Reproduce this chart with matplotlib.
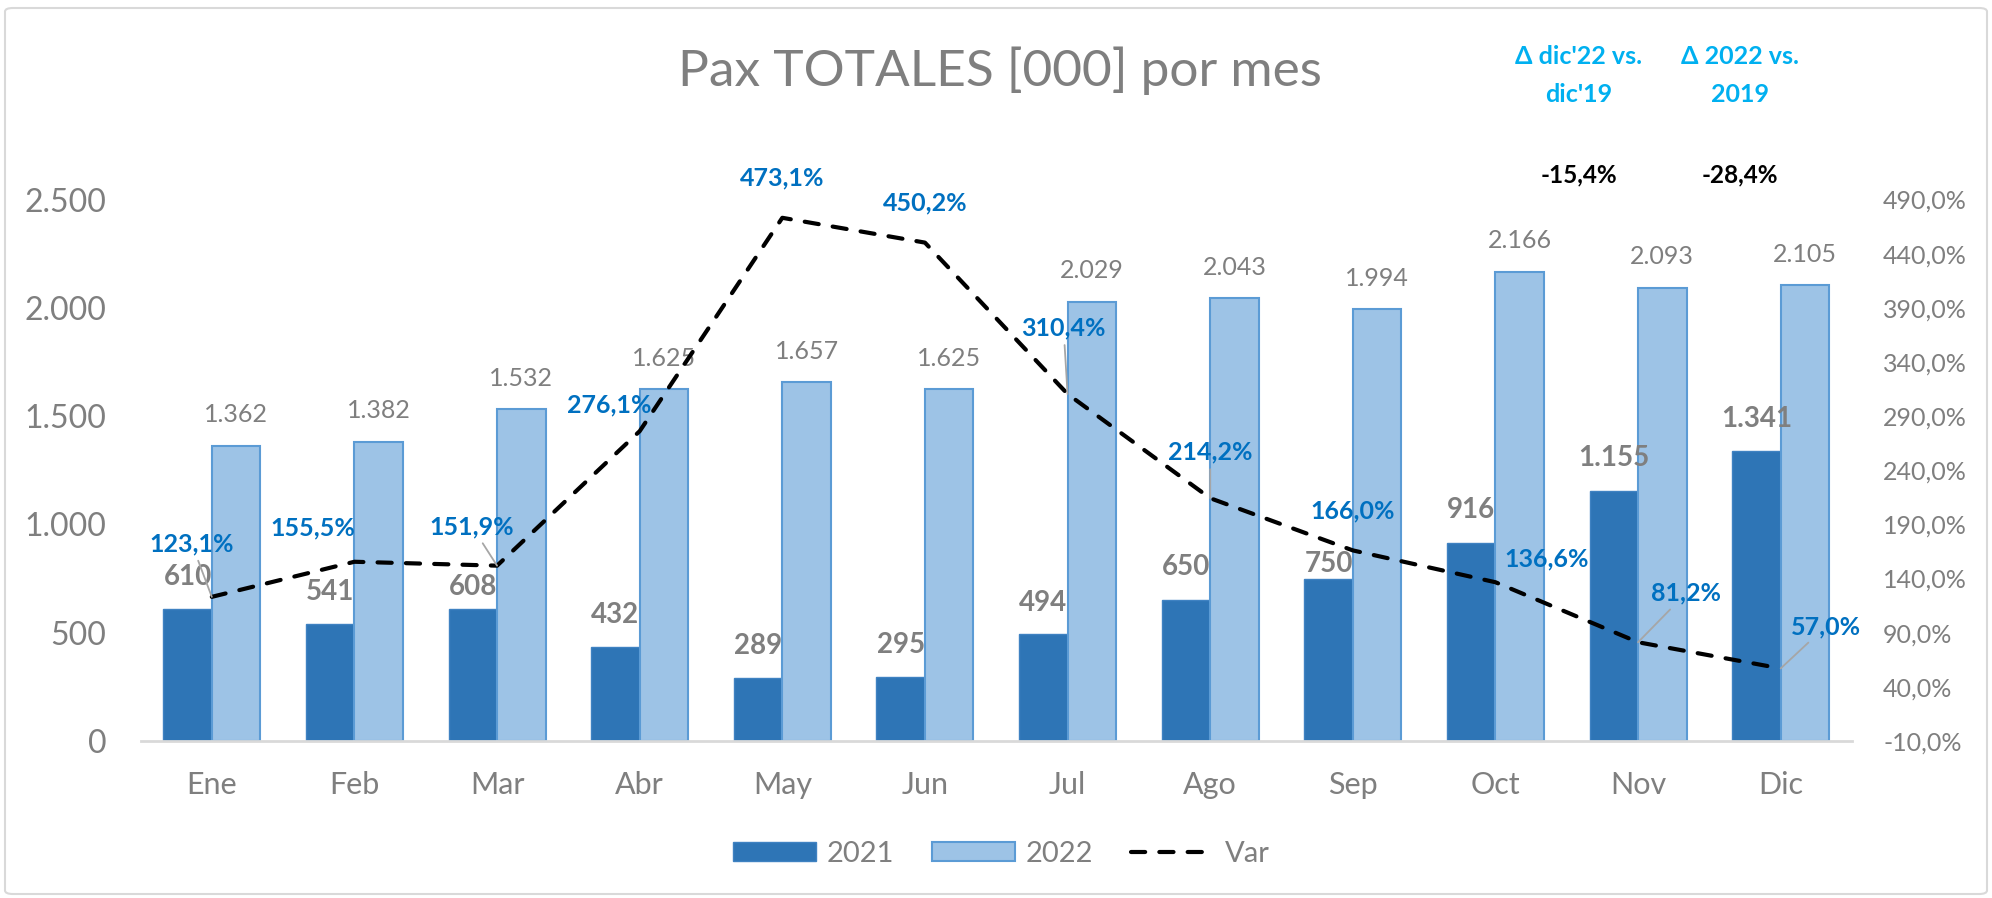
import matplotlib
matplotlib.use('Agg')
import matplotlib.pyplot as plt
from matplotlib.patches import FancyBboxPatch, Patch
from matplotlib.lines import Line2D
import numpy as np

# ---------------- data ----------------
months = ['Ene', 'Feb', 'Mar', 'Abr', 'May', 'Jun', 'Jul', 'Ago', 'Sep', 'Oct', 'Nov', 'Dic']
pax_2021 = [610, 541, 608, 432, 289, 295, 494, 650, 750, 916, 1155, 1341]
pax_2022 = [1362, 1382, 1532, 1625, 1657, 1625, 2029, 2043, 1994, 2166, 2093, 2105]
var_pct = [123.1, 155.5, 151.9, 276.1, 473.1, 450.2, 310.4, 214.2, 166.0, 136.6, 81.2, 57.0]
left_ticks = [0, 500, 1000, 1500, 2000, 2500]
right_ticks = [-10, 40, 90, 140, 190, 240, 290, 340, 390, 440, 490]
series_names = ['2021', '2022', 'Var']
title = 'Pax TOTALES [000] por mes'
kpi_headers = [("\u0394 dic'22 vs.", "dic'19"), ("\u0394 2022 vs.", "2019")]
kpi_values = [-15.4, -28.4]

# ---------------- style ----------------
FONT = 'Lato'
plt.rcParams['font.family'] = [FONT, 'DejaVu Sans']
GRAY = '#7f7f7f'
DARK = '#2e75b6'
LIGHT = '#9dc3e6'
LIGHT_EDGE = '#5b9bd5'
BLUE_LBL = '#0070c0'
CYAN = '#00b0f0'
PX = 0.72  # px -> pt at dpi 100

W, H = 1992, 898
fig = plt.figure(figsize=(W / 100, H / 100), dpi=100)
fig.patch.set_facecolor('white')

ax_l, ax_r_px, ax_top, ax_bot = 140.5, 1852, 199.5, 741
ax = fig.add_axes([ax_l / W, 1 - ax_bot / H, (ax_r_px - ax_l) / W, (ax_bot - ax_top) / H])
ax2 = ax.twinx()

x = np.arange(len(months))
bw = 0.34
ax.bar(x - bw / 2, pax_2021, width=bw, color=DARK, edgecolor='#3f82c2', linewidth=1.0, zorder=2)
ax.bar(x + bw / 2, pax_2022, width=bw, color=LIGHT, edgecolor=LIGHT_EDGE, linewidth=1.5, zorder=2)

ax.set_xlim(-0.5, len(months) - 0.5)
ax.set_ylim(left_ticks[0], left_ticks[-1])
ax2.set_ylim(right_ticks[0], right_ticks[-1])

def thousands(v):
    return f'{v:,}'.replace(',', '.')

def pct(v):
    return f'{v:.1f}%'.replace('.', ',')

ax.set_yticks(left_ticks)
ax.set_yticklabels([thousands(v) for v in left_ticks])
ax2.set_yticks(right_ticks)
ax2.set_yticklabels([pct(v) for v in right_ticks])
ax.set_xticks(x)
ax.set_xticklabels(months)

ax.tick_params(axis='y', length=0, pad=34 * PX, labelsize=23, labelcolor=GRAY)
ax.tick_params(axis='x', length=0, pad=30 * PX, labelsize=22, labelcolor=GRAY)
ax2.tick_params(axis='y', length=0, pad=31 * PX, labelsize=18, labelcolor=GRAY)

for a in (ax, ax2):
    for s in ['top', 'left', 'right']:
        a.spines[s].set_visible(False)
ax.spines['bottom'].set_color('#d9d9d9')
ax.spines['bottom'].set_linewidth(2.0)
ax2.spines['bottom'].set_visible(False)

# Var line
ax2.plot(x, var_pct, color='black', linewidth=3, linestyle=(0, (3.4, 3.4)),
         dash_capstyle='round', zorder=3)
ax2.set_zorder(ax.get_zorder() + 1)
ax2.patch.set_visible(False)

# bar labels (offsets in px: label centre above the bar top)
off_2021 = [32, 32, 22, 32, 32, 32, 31, 33, 15, 33, 33, 32]
off_2022 = [31] * 12
for xi, v, o in zip(x, pax_2021, off_2021):
    ax.annotate(thousands(v), (xi - bw / 2, v), xytext=(0, o * PX), textcoords='offset points',
                ha='center', va='center', fontsize=20, fontweight='bold', color=GRAY, zorder=5)
for xi, v, o in zip(x, pax_2022, off_2022):
    ax.annotate(thousands(v), (xi + bw / 2, v), xytext=(0, o * PX), textcoords='offset points',
                ha='center', va='center', fontsize=18, color=GRAY, zorder=5)

# var labels (px offsets, image coords: +y down)
var_off = [(-20, -53), (-42, -34), (-25, -39), (-30, -26), (0, -40), (0, -40),
           (-4, -66), (0, -46), (0, -39), (51, -23), (48, -49), (45, -42)]
leader = [True, False, True, False, False, False, True, True, False, False, True, True]
for xi, v, (dx, dy), ld in zip(x, var_pct, var_off, leader):
    kw = {}
    if ld:
        kw['arrowprops'] = dict(arrowstyle='-', color='#a6a6a6', lw=1.3, shrinkA=2, shrinkB=0)
    ax2.annotate(pct(v), (xi, v), xytext=(dx * PX, -dy * PX), textcoords='offset points',
                 ha='center', va='center', fontsize=18, fontweight='bold', color=BLUE_LBL,
                 zorder=6, **kw)

# title
fig.text(999.5 / W, 1 - 71 / H, title, ha='center', va='center', fontsize=37, color=GRAY)

# KPI boxes
kpi_x = [1579, 1740]
for kx, (h1, h2), kv in zip(kpi_x, kpi_headers, kpi_values):
    fig.text(kx / W, 1 - 57 / H, h1, ha='center', va='center', fontsize=18,
             fontweight='bold', color=CYAN)
    fig.text(kx / W, 1 - 95 / H, h2, ha='center', va='center', fontsize=18,
             fontweight='bold', color=CYAN)
    fig.text(kx / W, 1 - 175 / H, pct(kv), ha='center', va='center', fontsize=17.5,
             fontweight='bold', color='black')

# legend
handles = [Patch(facecolor=DARK, edgecolor='#3f82c2', linewidth=1.0),
           Patch(facecolor=LIGHT, edgecolor=LIGHT_EDGE, linewidth=1.5),
           Line2D([0], [0], color='black', linewidth=3, linestyle=(0, (3.4, 3.4)),
                  dash_capstyle='round')]
leg = fig.legend(handles, series_names, loc='center', bbox_to_anchor=(1001 / W, 1 - 854 / H),
                 ncol=3, frameon=False, fontsize=21, handlelength=2.85, handleheight=0.62,
                 handletextpad=0.36, columnspacing=1.3, labelcolor=GRAY)

# outer border
border = FancyBboxPatch((5 / W, 4 / H), (W - 10) / W, (H - 12) / H,
                        boxstyle='round,pad=0,rounding_size=0.004', transform=fig.transFigure,
                        facecolor='none', edgecolor='#d9d9d9', linewidth=1.5)
fig.patches.append(border)

fig.savefig('out.png', dpi=100, facecolor='white')
